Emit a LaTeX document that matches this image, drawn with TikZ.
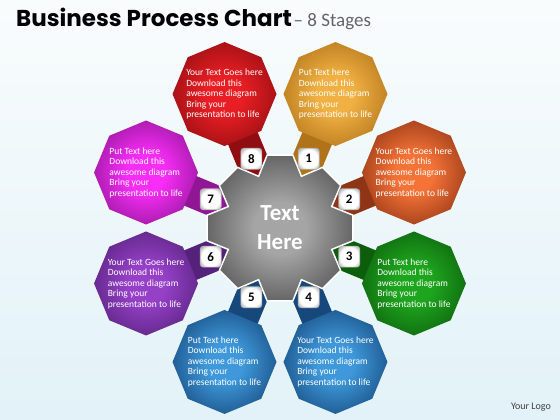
\documentclass[tikz,border=0pt]{standalone}
\usepackage{fontspec}
\setmainfont{Carlito}
\newfontfamily\titlefont{Poppins}
\definecolor{bgtop}{RGB}{249,252,253}
\definecolor{bgbot}{RGB}{226,242,248}
\definecolor{titlegray}{RGB}{100,100,100}
\definecolor{c1in}{RGB}{240,176,66}\definecolor{c1out}{RGB}{160,100,16}
\definecolor{c2in}{RGB}{245,115,55}\definecolor{c2out}{RGB}{118,36,12}
\definecolor{c3in}{RGB}{30,165,30}\definecolor{c3out}{RGB}{8,76,8}
\definecolor{c4in}{RGB}{62,152,218}\definecolor{c4out}{RGB}{12,52,100}
\definecolor{c5in}{RGB}{62,152,218}\definecolor{c5out}{RGB}{12,52,100}
\definecolor{c6in}{RGB}{150,64,200}\definecolor{c6out}{RGB}{68,26,102}
\definecolor{c7in}{RGB}{248,45,248}\definecolor{c7out}{RGB}{118,16,124}
\definecolor{c8in}{RGB}{232,30,36}\definecolor{c8out}{RGB}{122,9,12}
\definecolor{cgin}{RGB}{165,165,165}\definecolor{cgout}{RGB}{55,55,55}
\newcommand\mkshade[1]{\pgfdeclareradialshading{sh#1}{\pgfpoint{0bp}{0bp}}{color(0bp)=(c#1in);color(9bp)=(c#1in);color(37bp)=(c#1out);color(50bp)=(c#1out)}}
\mkshade{1}\mkshade{2}\mkshade{3}\mkshade{4}\mkshade{5}\mkshade{6}\mkshade{7}\mkshade{8}\mkshade{g}
\pgfdeclareradialshading{shbox}{\pgfpoint{0bp}{0bp}}{color(0bp)=(white);color(22bp)=(white);color(36bp)=(black!42);color(50bp)=(black!42)}
\newcommand\txtA{Your Text Goes here\\Download this\\awesome diagram\\Bring your\\presentation to life}
\newcommand\txtB{Put Text here\\Download this\\awesome diagram\\Bring your\\presentation to life}
\tikzset{
  octtext/.style={text=white, align=left, font=\fontsize{9.5}{10.5}\selectfont, inner sep=0pt},
  numbox/.style={draw=black!30, line width=0.6pt, shade, shading=shbox, rounded corners=3pt, minimum size=21pt, inner sep=0pt, font=\bfseries\fontsize{13}{13}\selectfont, text=black},
  centertext/.style={font=\bfseries\fontsize{23}{29}\selectfont, text=white, align=center},
}
\begin{document}
\begin{tikzpicture}[x=1pt,y=1pt]
\useasboundingbox (0,0) rectangle (560,420);
\shade[top color=bgtop, bottom color=bgbot] (0,0) rectangle (560,420);
\coordinate (C) at (280,192);
\foreach \a/\n/\t in {67.5/1/B, 22.5/2/A, -22.5/3/B, -67.5/4/A, -112.5/5/B, -157.5/6/A, 157.5/7/B, 112.5/8/A} {
  \colorlet{stemcol}{c\n out!80!c\n in}
  \fill[stemcol, shift={(C)}, rotate=\a] (54,0) -- (68,16) -- (122,16) -- (122,-16) -- (68,-16) -- cycle;
  \shade[shading=sh\n, shift={(C)}, shift={(\a:145)}] (0:52) -- (45:52) -- (90:52) -- (135:52) -- (180:52) -- (225:52) -- (270:52) -- (315:52) -- cycle;
  \path (C) ++(\a:145) node[octtext] (t\n) {\csname txt\t\endcsname};
}
\shadedraw[shading=shg, draw=white, line width=1.5pt, shift={(C)}] (-22.5:56) \foreach \k in {0,...,7} { -- ({\k*45-10}:74) -- ({\k*45+10}:74) -- ({\k*45+22.5}:56) } -- cycle;
\node[centertext] (ctext) at (C) {Text\\Here};
\foreach \a/\n in {67.5/1, 22.5/2, -22.5/3, -67.5/4, -112.5/5, -157.5/6, 157.5/7, 112.5/8} {
  \path (C) ++(\a:75) node[numbox] (b\n) {\n};
}
\node[anchor=base west, inner sep=0pt] (title) at (16,393) {{\titlefont\bfseries\fontsize{23}{23}\selectfont Business Process Chart}\,{\color{titlegray}\fontsize{19}{19}\selectfont – 8 Stages}};
\node[anchor=base east, inner sep=0pt, font=\fontsize{10}{10}\selectfont, text=black!75] (logo) at (551,10) {Your Logo};
\end{tikzpicture}
\end{document}
